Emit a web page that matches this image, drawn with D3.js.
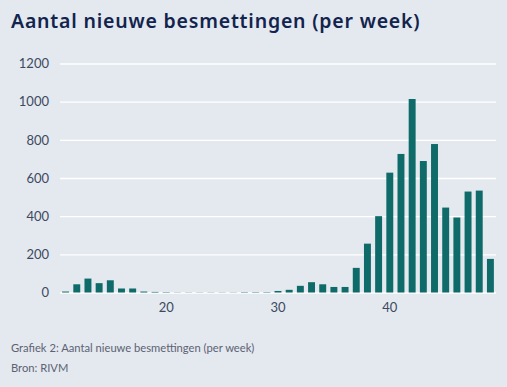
<!DOCTYPE html>
<html>
<head>
<meta charset="utf-8" />
<title>Aantal nieuwe besmettingen (per week)</title>
<style>
  html, body { margin: 0; padding: 0; background: #e4e8ef; }
  svg { display: block; }
</style>
</head>
<body>
<script src="https://d3js.org/d3.v7.min.js"></script>
<script>
  var weeks = d3.range(11, 50);
  var cases = [5, 43, 73, 49, 64, 21, 21, 5, 3,
               2, 1, 1, 1, 1, 1, 1, 2, 2, 2,
               8, 14, 35, 54, 43, 29, 29, 129, 256, 400,
               628, 726, 1014, 689, 778, 445, 393, 529, 534, 176];
  var yTicks = [0, 200, 400, 600, 800, 1000, 1200];
  var xTicks = [20, 30, 40];
  var title = "Aantal nieuwe besmettingen (per week)";
  var notes = ["Grafiek 2: Aantal nieuwe besmettingen (per week)", "Bron: RIVM"];

  var width = 507, height = 387;
  var margin = {left: 60, right: 11, top: 63.5, bottom: 94.5};

  var svg = d3.select("body").append("svg")
      .attr("width", width)
      .attr("height", height);

  svg.append("rect")
     .attr("width", width).attr("height", height)
     .attr("fill", "#e4e8ef");

  svg.append("text")
     .attr("x", 11).attr("y", 28)
     .attr("fill", "#12244d")
     .style("font-family", "'Noto Sans', sans-serif")
     .style("font-weight", 600)
     .style("font-size", "19.5px")
     .style("letter-spacing", "0.8px")
     .text(title);

  var x = d3.scaleBand()
      .domain(weeks)
      .range([margin.left, width - margin.right])
      .paddingInner(0.38)
      .paddingOuter(0.19);

  var y = d3.scaleLinear()
      .domain([0, 1200])
      .range([height - margin.bottom, margin.top]);

  // gridlines + y labels
  var yAxis = d3.axisLeft(y)
      .tickValues(yTicks)
      .tickSize(-(width - margin.left - margin.right))
      .tickPadding(11)
      .tickFormat(d3.format("d"));

  var gy = svg.append("g")
      .attr("transform", "translate(" + margin.left + ",0)")
      .call(yAxis);
  gy.select(".domain").remove();
  gy.selectAll(".tick line").attr("stroke", "#ffffff").attr("stroke-width", 1.3);
  gy.selectAll(".tick text")
    .attr("fill", "#3c4a60")
    .style("font-family", "Lato, sans-serif")
    .style("font-size", "13px");

  svg.append("g")
     .selectAll("rect")
     .data(weeks)
     .enter().append("rect")
     .attr("x", d => x(d))
     .attr("width", x.bandwidth())
     .attr("y", (d, i) => y(cases[i]))
     .attr("height", (d, i) => y(0) - y(cases[i]))
     .attr("fill", "#0e6b69");

  var xAxis = d3.axisBottom(x)
      .tickValues(xTicks)
      .tickSize(0)
      .tickPadding(10);

  var gx = svg.append("g")
      .attr("transform", "translate(0," + y(0) + ")")
      .call(xAxis);
  gx.select(".domain").remove();
  gx.selectAll(".tick text")
    .attr("fill", "#3c4a60")
    .style("font-family", "Lato, sans-serif")
    .style("font-size", "13px");

  svg.selectAll(".note")
     .data(notes)
     .enter().append("text")
     .attr("class", "note")
     .attr("x", 11)
     .attr("y", (d, i) => 352 + i * 20)
     .attr("fill", "#5b6373")
     .style("font-family", "Lato, sans-serif")
     .style("font-size", "11.2px")
     .text(d => d);
</script>
</body>
</html>
